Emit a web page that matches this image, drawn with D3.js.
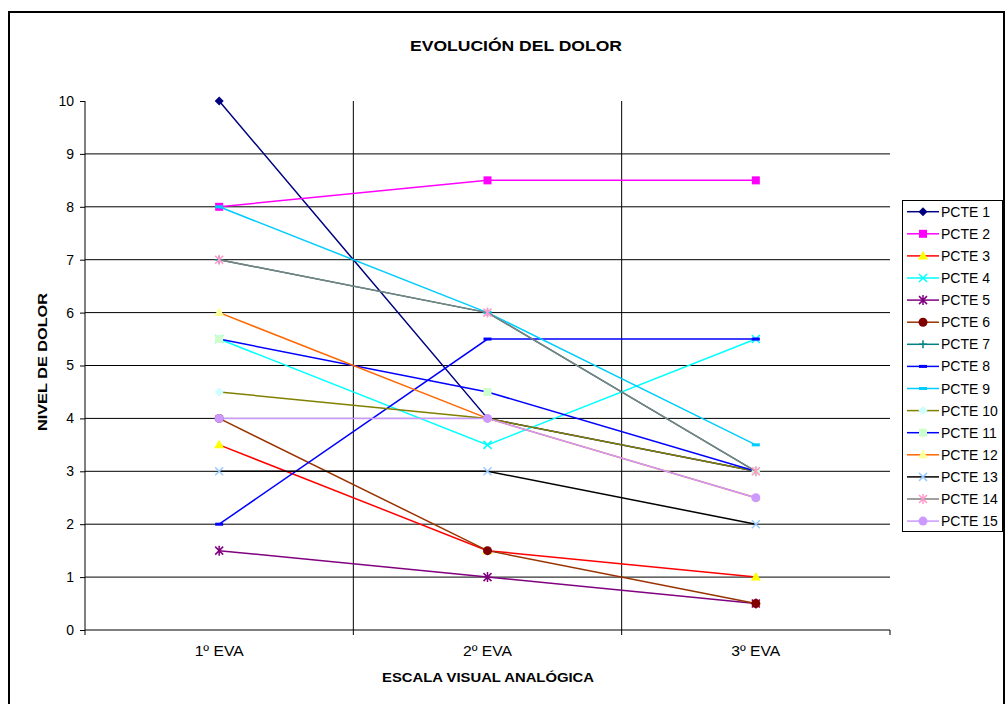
<!DOCTYPE html>
<html><head><meta charset="utf-8">
<script src="https://cdn.jsdelivr.net/npm/d3@7"></script>
<style>body{margin:0;background:#fff}svg{display:block}text{font-family:"Liberation Sans",Arial,sans-serif}</style>
</head><body><svg id="c" width="1008" height="704"></svg>
<script>
const categories = ["1º EVA", "2º EVA", "3º EVA"];
const seriesNames = ["PCTE 1","PCTE 2","PCTE 3","PCTE 4","PCTE 5","PCTE 6","PCTE 7","PCTE 8","PCTE 9","PCTE 10","PCTE 11","PCTE 12","PCTE 13","PCTE 14","PCTE 15"];
const pcte1 = [10, 4, 3];
const pcte2 = [8, 8.5, 8.5];
const pcte3 = [3.5, 1.5, 1];
const pcte4 = [5.5, 3.5, 5.5];
const pcte5 = [1.5, 1, 0.5];
const pcte6 = [4, 1.5, 0.5];
const pcte7 = [7, 6, 3];
const pcte8 = [2, 5.5, 5.5];
const pcte9 = [8, 6, 3.5];
const pcte10 = [4.5, 4, 3];
const pcte11 = [5.5, 4.5, 3];
const pcte12 = [6, 4, 2.5];
const pcte13 = [3, 3, 2];
const pcte14 = [7, 6, 3];
const pcte15 = [4, 4, 2.5];
const seriesValues = [pcte1,pcte2,pcte3,pcte4,pcte5,pcte6,pcte7,pcte8,pcte9,pcte10,pcte11,pcte12,pcte13,pcte14,pcte15];
const yTicks = [0,1,2,3,4,5,6,7,8,9,10];

const styles = [
 {line:"#000080", fill:"#000080", m:"diamond"},
 {line:"#FF00FF", fill:"#FF00FF", m:"square"},
 {line:"#FF0000", fill:"#FFFF00", m:"triangle"},
 {line:"#00FFFF", fill:"#00FFFF", m:"x"},
 {line:"#800080", fill:"#800080", m:"star"},
 {line:"#993300", fill:"#800000", m:"circle"},
 {line:"#008080", fill:"#008080", m:"plus"},
 {line:"#0000FF", fill:"#0000FF", m:"dash"},
 {line:"#00CCFF", fill:"#00CCFF", m:"dash"},
 {line:"#808000", fill:"#CCFFFF", m:"diamond"},
 {line:"#0000FF", fill:"#CCFFCC", m:"square"},
 {line:"#FF6600", fill:"#FFFF99", m:"triangle"},
 {line:"#000000", fill:"#99CCFF", m:"x"},
 {line:"#808080", fill:"#FF99CC", m:"star"},
 {line:"#CC99FF", fill:"#CC99FF", m:"circle"}
];

const svg = d3.select("#c");
svg.append("path").attr("d","M9,704 V12 H1004 V704").attr("fill","none").attr("stroke","#000").attr("stroke-width",2);

const L=85, R=890, T=101, B=630;
const x = d3.scaleBand().domain(categories).range([L,R]);
const y = d3.scaleLinear().domain([0,10]).range([B,T]);

svg.append("g").selectAll("line").data(yTicks.filter(d=>d>0 && d<10)).join("line")
 .attr("x1",L).attr("x2",R).attr("y1",d=>y(d)).attr("y2",d=>y(d)).attr("stroke","#000").attr("stroke-width",1);
const bounds = categories.slice(1).map(c=>x(c));
svg.append("g").selectAll("line").data(bounds).join("line")
 .attr("x1",d=>d).attr("x2",d=>d).attr("y1",T).attr("y2",B).attr("stroke","#000").attr("stroke-width",1);

const yAxis = d3.axisLeft(y).tickValues(yTicks).tickSize(5).tickPadding(6);
const gy = svg.append("g").attr("transform",`translate(${L},0)`).call(yAxis);
gy.attr("font-family",null).attr("font-size",null);
gy.select(".domain").attr("stroke","#000").attr("d",`M-0,${B}V${T}`);
gy.selectAll(".tick line").attr("stroke","#000");
gy.selectAll("text").attr("font-size",14).attr("fill","#000");

const gx = svg.append("g").attr("transform",`translate(0,${B})`);
gx.append("line").attr("x1",L).attr("x2",R).attr("stroke","#000");
gx.selectAll(".tk").data([L,...bounds,R]).join("line").attr("class","tk")
 .attr("x1",d=>d).attr("x2",d=>d).attr("y1",0).attr("y2",5).attr("stroke","#000");
gx.selectAll(".lb").data(categories).join("text").attr("class","lb")
 .attr("x",d=>x(d)+x.bandwidth()/2).attr("y",26).attr("text-anchor","middle").attr("font-size",14)
 .attr("textLength",49).attr("lengthAdjust","spacingAndGlyphs").text(d=>d);

svg.append("text").attr("x",516).attr("y",51).attr("text-anchor","middle").attr("font-size",15).attr("font-weight","bold")
 .attr("textLength",212).attr("lengthAdjust","spacingAndGlyphs").text("EVOLUCIÓN DEL DOLOR");
svg.append("text").attr("x",488).attr("y",682).attr("text-anchor","middle").attr("font-size",13).attr("font-weight","bold")
 .attr("textLength",212).attr("lengthAdjust","spacingAndGlyphs").text("ESCALA VISUAL ANALÓGICA");
svg.append("text").attr("transform","translate(47,362) rotate(-90)").attr("text-anchor","middle").attr("font-size",13).attr("font-weight","bold")
 .attr("textLength",138).attr("lengthAdjust","spacingAndGlyphs").text("NIVEL DE DOLOR");

function drawMarker(g, st, cx, cy){
 const s = 4;
 switch(st.m){
  case "diamond": g.append("path").attr("d",`M${cx},${cy-s-0.5}L${cx+s+0.5},${cy}L${cx},${cy+s+0.5}L${cx-s-0.5},${cy}Z`).attr("fill",st.fill); break;
  case "square": g.append("rect").attr("x",cx-4).attr("y",cy-4).attr("width",8).attr("height",8).attr("fill",st.fill); break;
  case "triangle": g.append("path").attr("d",`M${cx},${cy-5}L${cx+5},${cy+3.5}L${cx-5},${cy+3.5}Z`).attr("fill",st.fill); break;
  case "circle": g.append("circle").attr("cx",cx).attr("cy",cy).attr("r",4.5).attr("fill",st.fill); break;
  case "x": g.append("path").attr("d",`M${cx-4},${cy-4}L${cx+4},${cy+4}M${cx+4},${cy-4}L${cx-4},${cy+4}`).attr("stroke",st.fill).attr("stroke-width",1.5); break;
  case "star": g.append("path").attr("d",`M${cx-4},${cy-4}L${cx+4},${cy+4}M${cx+4},${cy-4}L${cx-4},${cy+4}M${cx},${cy-5}L${cx},${cy+5}`).attr("stroke",st.fill).attr("stroke-width",1.5); break;
  case "plus": g.append("path").attr("d",`M${cx-4},${cy}L${cx+4},${cy}M${cx},${cy-4}L${cx},${cy+4}`).attr("stroke",st.fill).attr("stroke-width",1.5); break;
  case "dash": g.append("rect").attr("x",cx-4).attr("y",cy-1.5).attr("width",8).attr("height",3).attr("fill",st.fill); break;
 }
}

const line = d3.line().x((d,i)=>x(categories[i])+x.bandwidth()/2).y(d=>y(d));
const plot = svg.append("g");
seriesValues.forEach((vals,k)=>{
 const st = styles[k];
 const g = plot.append("g");
 g.append("path").attr("d",line(vals)).attr("fill","none").attr("stroke",st.line).attr("stroke-width",1.5);
 vals.forEach((v,i)=>drawMarker(g, st, x(categories[i])+x.bandwidth()/2, y(v)));
});

const lg = svg.append("g");
lg.append("rect").attr("x",902.5).attr("y",200.5).attr("width",100).attr("height",331).attr("fill","#fff").attr("stroke","#000");
seriesNames.forEach((n,k)=>{
 const cy = 211.7 + k*22.1;
 const st = styles[k];
 lg.append("line").attr("x1",907).attr("x2",939).attr("y1",cy).attr("y2",cy).attr("stroke",st.line).attr("stroke-width",1.5);
 drawMarker(lg, st, 923, cy);
 lg.append("text").attr("x",941).attr("y",cy+5).attr("font-size",14).text(n);
});
</script></body></html>
